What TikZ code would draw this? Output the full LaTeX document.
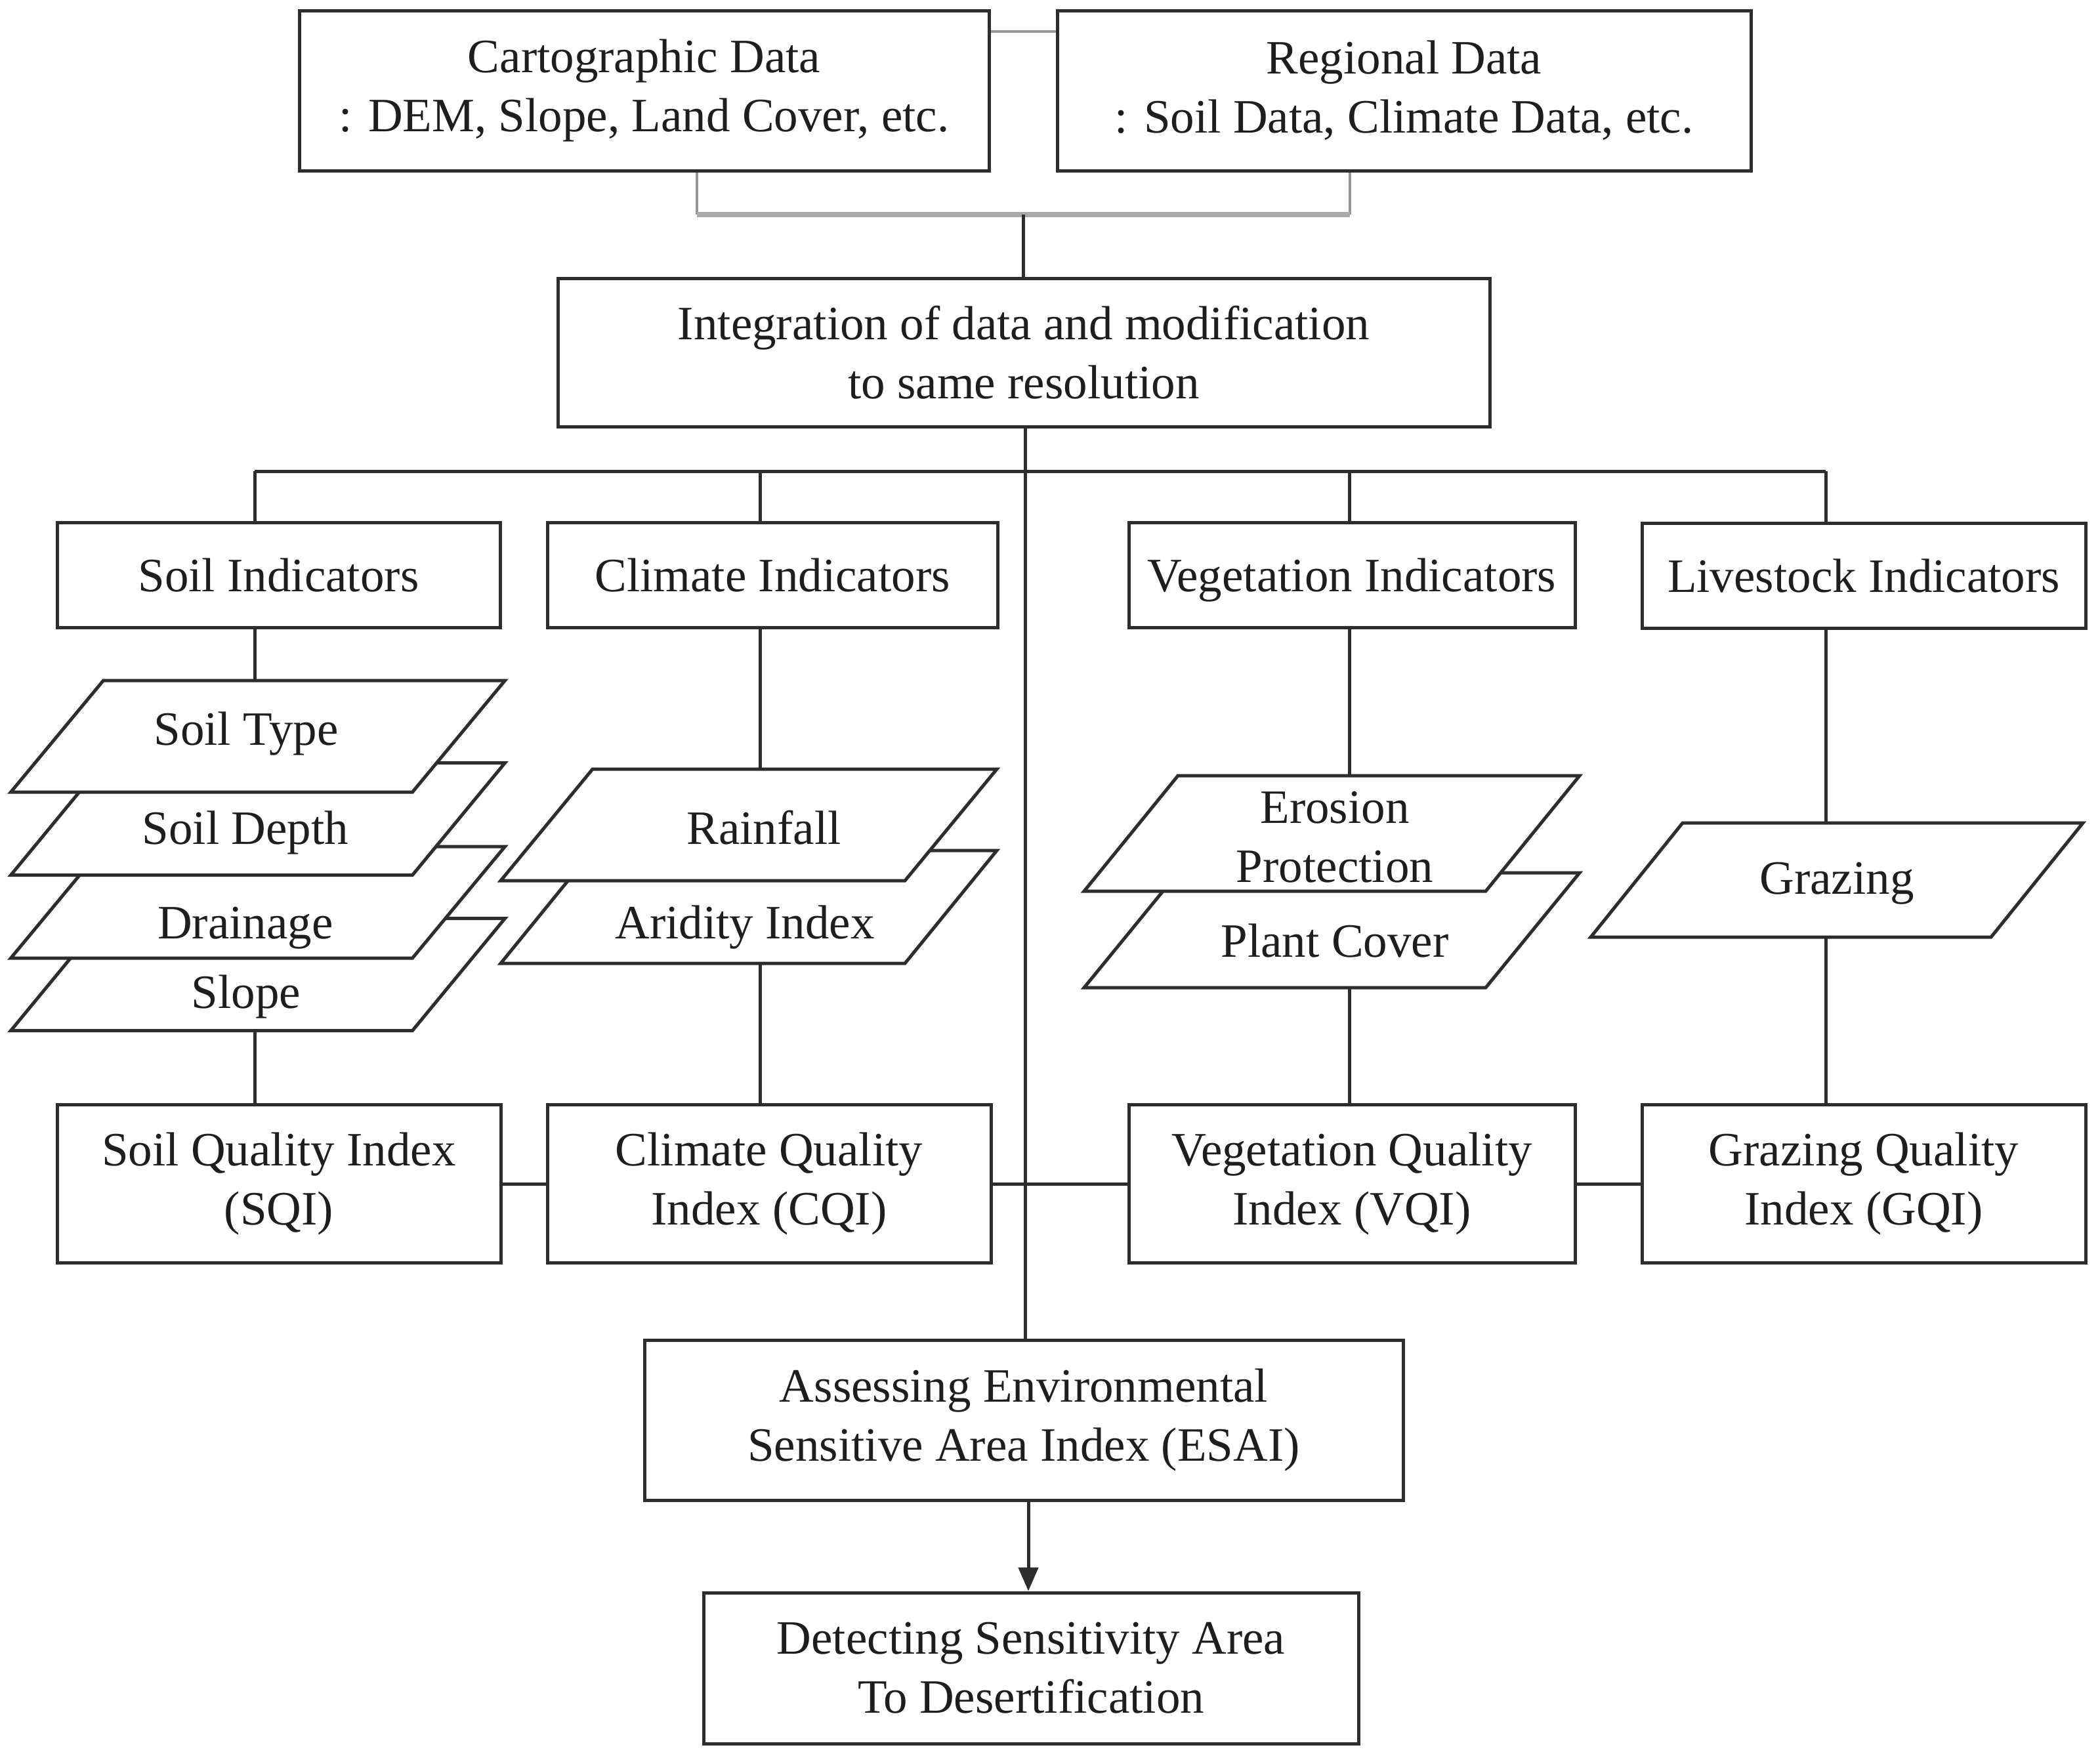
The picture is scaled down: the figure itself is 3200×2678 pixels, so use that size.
\documentclass[tikz,border=0pt]{standalone}
\usepackage{fontspec}
\setmainfont{Liberation Serif}
\usetikzlibrary{arrows.meta}
\definecolor{ln}{RGB}{45,45,45}
\definecolor{gln}{RGB}{150,150,150}
\definecolor{glb}{RGB}{170,170,170}
\definecolor{txt}{RGB}{30,30,30}
\newcommand\plgm[6]{%
  \draw[plgstyle] ({#2-#4/2+#6/2},{#3-#5/2}) -- ({#2+#4/2+#6/2},{#3-#5/2}) -- ({#2+#4/2-#6/2},{#3+#5/2}) -- ({#2-#4/2-#6/2},{#3+#5/2}) -- cycle;
  \coordinate (#1-n) at (#2,{#3-#5/2});
  \coordinate (#1-s) at (#2,{#3+#5/2});}
\begin{document}
\begin{tikzpicture}[x=0.25pt,y=-0.25pt,
  txtfont/.style={text=txt, font=\fontsize{18.25}{22.5}\selectfont},
  box/.style={draw=ln, line width=1.25pt, fill=white, inner sep=0pt, align=center, txtfont},
  onebox/.style={box, text depth=0pt},
  lbl/.style={inner sep=0pt, anchor=base, txtfont},
  conn/.style={draw=ln, line width=1.25pt},
  gconn/.style={draw=gln, line width=1.2pt},
  gbus/.style={draw=glb, line width=2pt},
  plgstyle/.style={draw=ln, line width=1.25pt, fill=white, line join=miter}]
\useasboundingbox (0,0) rectangle (3200,2678);
\fill[white] (0,0) rectangle (3200,2678);

% boxes
\node[box, minimum width=1051*0.25pt, minimum height=244*0.25pt] (carto) at (981.5,138) {Cartographic Data\\: DEM, Slope, Land Cover, etc.};
\node[box, minimum width=1057*0.25pt, minimum height=244*0.25pt] (regional) at (2139.5,138) {Regional Data\\: Soil Data, Climate Data, etc.};
\node[box, minimum width=1420*0.25pt, minimum height=226*0.25pt] (integ) at (1560,537) {Integration of data and modification\\to same resolution};

\node[onebox, minimum width=675*0.25pt, minimum height=160*0.25pt] (soilind) at (424.5,876) {Soil Indicators};
\node[onebox, minimum width=686*0.25pt, minimum height=160*0.25pt] (climind) at (1177,876) {Climate Indicators};
\node[onebox, minimum width=680*0.25pt, minimum height=160*0.25pt] (vegind) at (2060,876) {Vegetation Indicators};
\node[onebox, minimum width=676*0.25pt, minimum height=160*0.25pt] (liveind) at (2840,877) {Livestock Indicators};

\node[box, minimum width=676*0.25pt, minimum height=241*0.25pt] (sqi) at (425,1804) {Soil Quality Index\\(SQI)};
\node[box, minimum width=676*0.25pt, minimum height=241*0.25pt] (cqi) at (1172,1804) {Climate Quality\\Index (CQI)};
\node[box, minimum width=680*0.25pt, minimum height=241*0.25pt] (vqi) at (2060,1804) {Vegetation Quality\\Index (VQI)};
\node[box, minimum width=676*0.25pt, minimum height=241*0.25pt] (gqi) at (2840,1804) {Grazing Quality\\Index (GQI)};

\node[box, minimum width=1156*0.25pt, minimum height=244*0.25pt] (esai) at (1560,2164) {Assessing Environmental\\Sensitive Area Index (ESAI)};
\node[box, minimum width=998*0.25pt, minimum height=230*0.25pt] (detect) at (1571,2542) {Detecting Sensitivity Area\\To Desertification};

% parallelograms (drawn back to front)
\plgm{slope}{393}{1485}{612}{171}{141}
\plgm{drain}{393}{1375}{612}{170}{141}
\plgm{sdepth}{393}{1248}{612}{171}{141}
\plgm{stype}{393}{1122}{612}{170}{141}
\plgm{arid}{1141}{1382}{616}{172}{140}
\plgm{rain}{1141}{1257}{616}{170}{140}
\plgm{plant}{2029.5}{1417.5}{612}{175}{143}
\plgm{eros}{2029.5}{1270}{612}{176}{143}
\plgm{graz}{2799}{1341}{610}{174}{140}

\node[lbl] (tstype) at (375,1135) {Soil Type};
\node[lbl] (tsdepth) at (374,1286) {Soil Depth};
\node[lbl] (tdrain) at (374,1430) {Drainage};
\node[lbl] (tslope) at (375,1536) {Slope};
\node[lbl] (train) at (1164,1286) {Rainfall};
\node[lbl] (tarid) at (1135,1430) {Aridity Index};
\node[lbl] (teros1) at (2034,1254) {Erosion};
\node[lbl] (teros2) at (2034,1344) {Protection};
\node[lbl] (tplant) at (2034,1458) {Plant Cover};
\node[lbl] (tgraz) at (2799,1362) {Grazing};

% column coordinates
\coordinate (bS) at (388,718);
\coordinate (bC) at (1158,718);
\coordinate (bV) at (2056,718);
\coordinate (bL) at (2782,718);
\coordinate (bM) at (1562,718);
\coordinate (gtop) at (0,48);
\coordinate (gl) at (1062,327);
\coordinate (gr) at (2057,327);
\coordinate (gm) at (1559,327);
\coordinate (ar) at (1567,0);

% top grey connectors
\draw[gconn] (carto.east |- gtop) -- (regional.west |- gtop);
\draw[gconn] (carto.south -| gl) -- (gl);
\draw[gconn] (regional.south -| gr) -- (gr);
\draw[gbus] (gl) -- (gr);
\draw[conn] (gm) -- (integ.north -| gm);

% bus
\draw[conn] (bS) -- (bL);
\draw[conn] (bS) -- (soilind.north -| bS);
\draw[conn] (bC) -- (climind.north -| bC);
\draw[conn] (bV) -- (vegind.north -| bV);
\draw[conn] (bL) -- (liveind.north -| bL);

% central spine
\draw[conn] (integ.south -| bM) -- (esai.north -| bM);

% columns
\draw[conn] (soilind.south -| bS) -- (stype-n -| bS);
\draw[conn] (slope-s -| bS) -- (sqi.north -| bS);
\draw[conn] (climind.south -| bC) -- (rain-n -| bC);
\draw[conn] (arid-s -| bC) -- (cqi.north -| bC);
\draw[conn] (vegind.south -| bV) -- (eros-n -| bV);
\draw[conn] (plant-s -| bV) -- (vqi.north -| bV);
\draw[conn] (liveind.south -| bL) -- (graz-n -| bL);
\draw[conn] (graz-s -| bL) -- (gqi.north -| bL);

% index row
\draw[conn] (sqi.east) -- (cqi.west);
\draw[conn] (cqi.east) -- (vqi.west);
\draw[conn] (vqi.east) -- (gqi.west);

% final arrow
\draw[conn, -{Triangle[length=9pt,width=7.5pt]}] (esai.south -| ar) -- (detect.north -| ar);
\end{tikzpicture}
\end{document}
